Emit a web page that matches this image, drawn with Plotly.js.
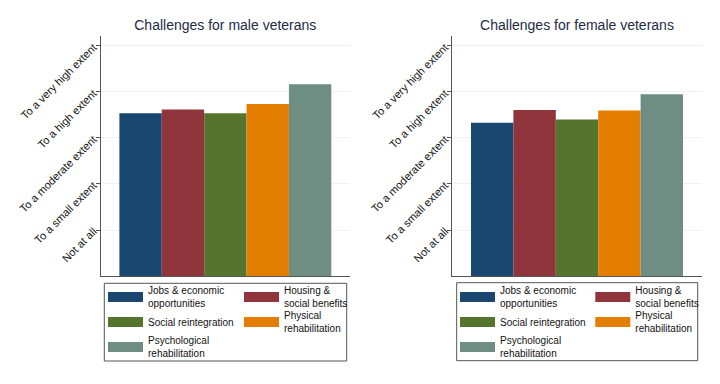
<!DOCTYPE html>
<html>
<head>
<meta charset="utf-8">
<script src="https://cdn.plot.ly/plotly-3.0.1.min.js"></script>
<style>
  html, body { margin: 0; padding: 0; background: #fff; }
  #wrap { display: flex; width: 720px; height: 384px; }
  #male, #female { width: 360px; height: 384px; }
</style>
</head>
<body>
<div id="wrap"><div id="male"></div><div id="female"></div></div>
<script>
// ---- data ----
const categories = ['Jobs & economic opportunities', 'Housing & social benefits', 'Social reintegration', 'Physical rehabilitation', 'Psychological rehabilitation'];
const legendLabels = ['Jobs & economic<br>opportunities', 'Housing &<br>social benefits', 'Social reintegration', 'Physical<br>rehabilitation', 'Psychological<br>rehabilitation'];
const maleValues = [3.54, 3.62, 3.54, 3.74, 4.17];
const femaleValues = [3.33, 3.61, 3.40, 3.60, 3.95];
const scaleValues = [1, 2, 3, 4, 5];
const scaleLabels = ['Not at all', 'To a small extent', 'To a moderate extent', 'To a high extent', 'To a very high extent'];
const titles = ['Challenges for male veterans', 'Challenges for female veterans'];
const colors = ['#1a476f', '#90353b', '#55752f', '#e37e00', '#6e8e84'];

const FONT = 'Arial, "Liberation Sans", Helvetica, sans-serif';

function makeChart(divId, values, title, cfg) {
  const W = 360, H = 384;
  const gsw = W - cfg.l;
  const px = v => (v - cfg.l) / gsw;   // pixel -> paper x
  const py = v => 1 - v / H;           // pixel -> paper y

  const traces = [];
  categories.forEach((c, i) => {
    traces.push({
      type: 'bar', x: [title], y: [values[i]], name: c,
      marker: { color: colors[i], line: { width: 0 } },
      showlegend: false, hoverinfo: 'y+name'
    });
  });
  // legend layout: 2 columns x 3 rows
  const colX = [cfg.col1, cfg.col2];
  const rowY = [297, 322, 347];
  const slots = [[0, 0], [1, 0], [0, 1], [1, 1], [0, 2]];
  const layout = {
    width: W, height: H,
    margin: { l: cfg.l, r: 0, t: 0, b: 0, pad: 0 },
    paper_bgcolor: '#fff', plot_bgcolor: '#fff',
    font: { family: FONT, color: '#000' },
    title: {
      text: title, xref: 'container', yref: 'container',
      x: cfg.titleX / W, y: 1 - 25 / H, xanchor: 'center', yanchor: 'middle',
      font: { family: FONT, size: 14, color: '#1e2b45' }
    },
    barmode: 'group', bargap: 0.15, bargroupgap: 0,
    xaxis: {
      type: 'category', domain: [px(cfg.axL), px(cfg.axR)],
      showticklabels: false, ticks: '', showgrid: false, zeroline: false,
      showline: true, linecolor: '#555', linewidth: 1, fixedrange: true
    },
    yaxis: {
      domain: [py(276), py(36)], range: [0, 5.217],
      tickvals: scaleValues, ticktext: scaleLabels, tickangle: -45,
      tickfont: { family: FONT, size: 11, color: '#111' },
      ticks: 'outside', ticklen: 4, tickcolor: '#555', tickwidth: 1,
      showline: true, linecolor: '#555', linewidth: 1,
      showgrid: true, gridcolor: '#eef1f3', gridwidth: 1, zeroline: false, fixedrange: true
    },
    showlegend: true,
    shapes: [{
      type: 'rect', xref: 'paper', yref: 'paper',
      x0: px(cfg.box[0]), x1: px(cfg.box[1]), y0: py(cfg.box[3]), y1: py(cfg.box[2]),
      line: { color: '#555', width: 1 }, fillcolor: 'rgba(0,0,0,0)', layer: 'below'
    }]
  };
  categories.forEach((c, i) => {
    const id = i === 0 ? 'legend' : 'legend' + (i + 1);
    const [col, row] = slots[i];
    const lines = legendLabels[i].split('<br>').length;
    const h = Math.max(13 * lines, 16) + 3;
    const top = rowY[row] - (5 + h / 2);
    traces.push({
      type: 'scatter', mode: 'lines', x: [null], y: [null],
      name: legendLabels[i], legend: id,
      line: { color: colors[i], width: 10 },
      showlegend: true, hoverinfo: 'skip'
    });
    layout[id] = {
      orientation: 'v', x: px(colX[col] - 5), y: py(top),
      xanchor: 'left', yanchor: 'top', xref: 'paper', yref: 'paper',
      itemwidth: 35,
      font: { family: FONT, size: 10, color: '#111' },
      bgcolor: 'rgba(0,0,0,0)', borderwidth: 0,
      valign: 'middle', itemclick: false, itemdoubleclick: false
    };
  });
  return Plotly.newPlot(divId, traces, layout, { displayModeBar: false, staticPlot: true });
}

makeChart('male', maleValues, titles[0], {
  l: 70, axL: 100.7, axR: 350, titleX: 225.3,
  col1: 108, col2: 244, box: [104.3, 346.7, 283.3, 361]
});
makeChart('female', femaleValues, titles[1], {
  l: 62, axL: 92.3, axR: 341.7, titleX: 217,
  col1: 100, col2: 235.3, box: [96.7, 337.7, 282.7, 360.7]
});
</script>
</body>
</html>
